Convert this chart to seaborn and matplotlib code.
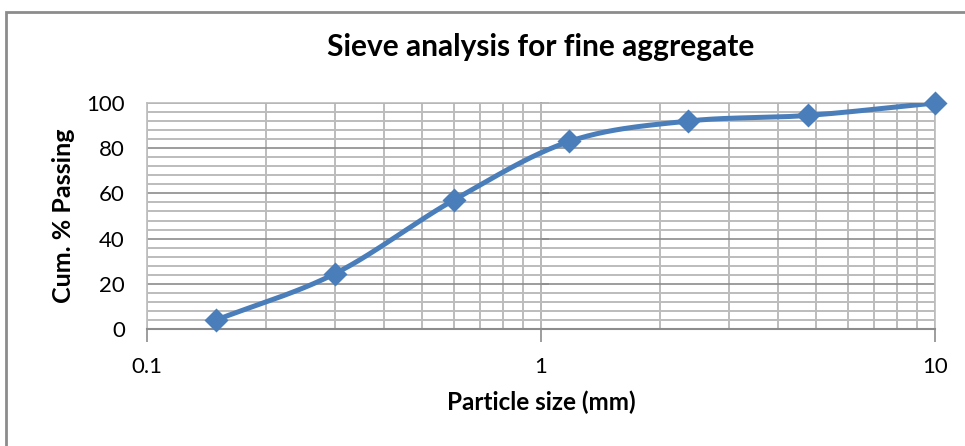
import numpy as np
import pandas as pd
import matplotlib
matplotlib.use("Agg")
import matplotlib.pyplot as plt
import seaborn as sns
from matplotlib.patches import Rectangle
from matplotlib.ticker import FixedLocator, LogLocator, MultipleLocator, NullFormatter

# Sieve analysis results
sieve_size_mm = [0.15, 0.3, 0.6, 1.18, 2.36, 4.75, 10.0]
cum_passing = [4.0, 24.5, 57.0, 83.0, 92.0, 94.5, 100.0]

x_ticks = [0.1, 1, 10]
x_tick_labels = ["0.1", "1", "10"]
y_ticks = [0, 20, 40, 60, 80, 100]

title = "Sieve analysis for fine aggregate"
x_label = "Particle size (mm)"
y_label = "Cum. % Passing"

df = pd.DataFrame({"size": sieve_size_mm, "passing": cum_passing})

sns.set_theme(style="white")
plt.rcParams["font.family"] = ["Lato", "DejaVu Sans"]
plt.rcParams["text.color"] = "black"
plt.rcParams["axes.labelcolor"] = "black"

BLUE = "#4a7ebb"
MAJOR_GRID = "#8c8c8c"
MINOR_GRID = "#bcbcbc"

fig = plt.figure(figsize=(9.65, 4.46), dpi=100)
ax = fig.add_axes([147 / 965, 1 - 329 / 446, (935 - 147) / 965, (329 - 103) / 446])

ax.set_xscale("log")
ax.set_xlim(0.1, 10)
ax.set_ylim(0, 100)

# grid: light minor lines, darker major horizontals
ax.xaxis.set_major_locator(FixedLocator(x_ticks))
ax.xaxis.set_minor_locator(LogLocator(base=10, subs=np.arange(2, 10)))
ax.xaxis.set_minor_formatter(NullFormatter())
ax.set_xticklabels(x_tick_labels)
ax.yaxis.set_major_locator(FixedLocator(y_ticks))
ax.yaxis.set_minor_locator(MultipleLocator(4))

ax.grid(True, which="minor", axis="both", color=MINOR_GRID, linewidth=1.4)
ax.grid(True, which="major", axis="x", color=MINOR_GRID, linewidth=1.4)
ax.grid(True, which="major", axis="y", color=MAJOR_GRID, linewidth=1.2)
ax.set_axisbelow(True)

for side in ["top", "right", "left"]:
    ax.spines[side].set_color(MINOR_GRID)
    ax.spines[side].set_linewidth(1.2)
ax.spines["bottom"].set_color(MAJOR_GRID)
ax.spines["bottom"].set_linewidth(1.5)

ax.tick_params(axis="x", which="major", direction="out", length=9, width=1.2,
               color=MAJOR_GRID, pad=11, labelsize=16, labelcolor="black", bottom=True)
ax.tick_params(axis="x", which="minor", length=0)
ax.tick_params(axis="y", which="both", length=0, pad=16, labelsize=16, labelcolor="black")

# vertical axis line crossing at x = 1 with outward tick marks
mid = ax.secondary_yaxis(0.5)
mid.yaxis.set_major_locator(MultipleLocator(4))
mid.tick_params(axis="y", which="both", direction="out", length=6, width=1.2,
                color=MAJOR_GRID, labelleft=False, labelright=False)
mid.spines["left"].set_color(MAJOR_GRID)
mid.spines["left"].set_linewidth(1.5)

# smoothed curve through the points (Catmull-Rom in display space)
fig.canvas.draw()
pts = ax.transData.transform(np.column_stack([df["size"], df["passing"]]))
ext = np.vstack([2 * pts[0] - pts[1], pts, 2 * pts[-1] - pts[-2]])
curve = []
for i in range(1, len(ext) - 2):
    p0, p1, p2, p3 = ext[i - 1], ext[i], ext[i + 1], ext[i + 2]
    c1 = p1 + (p2 - p0) / 6.0
    c2 = p2 - (p3 - p1) / 6.0
    t = np.linspace(0, 1, 40)[:, None]
    seg = ((1 - t) ** 3) * p1 + 3 * ((1 - t) ** 2) * t * c1 + 3 * (1 - t) * t ** 2 * c2 + t ** 3 * p2
    curve.append(seg if i == 1 else seg[1:])
curve = ax.transData.inverted().transform(np.vstack(curve))
ax.plot(curve[:, 0], curve[:, 1], color=BLUE, linewidth=3.6, solid_capstyle="round", zorder=3)

sns.scatterplot(data=df, x="size", y="passing", marker="D", s=150, color=BLUE,
                edgecolor=BLUE, linewidth=0, ax=ax, zorder=4, clip_on=False)

ax.set_xlabel(x_label, fontsize=17.5, fontweight="bold", labelpad=10, color="black")
ax.set_ylabel(y_label, fontsize=18, fontweight="bold", labelpad=8, color="black")
ax.set_title(title, fontsize=21.5, fontweight="bold", pad=34, color="black")

# chart-area border
fig.add_artist(Rectangle((6 / 965, -0.1), 1.2, 1 - 12 / 446 + 0.1, transform=fig.transFigure,
                         fill=False, edgecolor=MAJOR_GRID, linewidth=2))

fig.savefig("out.png", dpi=100)
